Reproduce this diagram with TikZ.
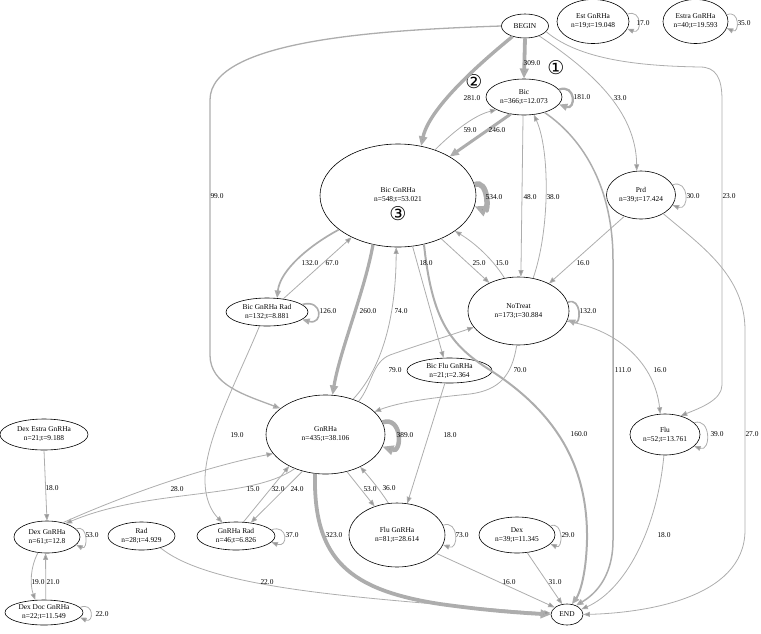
\documentclass[tikz,border=0pt]{standalone}
\usepackage{fontspec}
\setmainfont{Liberation Serif}
\newfontfamily\circfont{DejaVu Sans}
\usepackage{xcolor}
\usetikzlibrary{shapes.geometric, arrows.meta}
\definecolor{edgegray}{HTML}{ADADAD}
\definecolor{tipgray}{HTML}{969696}

\begin{document}
\begin{tikzpicture}[
    x=1pt, y=-1pt,
    state/.style  = {ellipse, draw, line width=0.6pt, inner sep=0pt, align=center,
                     font=\fontsize{7.4}{9}\selectfont},
    sz/.style args = {#1x#2}{minimum width=#1pt, minimum height=#2pt},
    flow/.style   = {draw=edgegray, line width=#1,
                     -{Triangle[length=5.6pt 1.2, width=4pt 1.2, fill=tipgray]}},
    flow/.default = 0.8pt,
    lbl/.style    = {inner sep=0pt, font=\fontsize{7.4}{9}\selectfont},
    badge/.style  = {inner sep=0pt, font=\circfont\fontsize{19}{19}\selectfont},
  ]
  \useasboundingbox (0,0) rectangle (761,633);

  \node[state, sz=47x24]   (start)        at (525,26)      {BEGIN};
  \node[state, sz=72x44]   (est_gn)       at (593,21.5)    {Est GnRHa\\n=19;t=19.048};
  \node[state, sz=65x44]   (estra_gn)     at (695.5,21.5)  {Estra GnRHa\\n=40;t=19.593};
  \node[state, sz=76x36]   (bic)          at (524,97)      {Bic\\n=366;t=12.073};
  \node[state, sz=156x103] (bic_gn)       at (398,195.5)   {Bic GnRHa\\n=548;t=53.021};
  \node[state, sz=69x48]   (prd)          at (641,195)     {Prd\\n=39;t=17.424};
  \node[state, sz=101x68]  (notreat)      at (518.5,311)   {NoTreat\\n=173;t=30.884};
  \node[state, sz=82x28]   (bic_gn_rad)   at (267,312)     {Bic GnRHa Rad\\n=132;t=8.881};
  \node[state, sz=85x25]   (bic_flu_gn)   at (449.5,370.5) {Bic Flu GnRHa\\n=21;t=2.364};
  \node[state, sz=119x79]  (gnrha)        at (325.5,434.5) {GnRHa\\n=435;t=38.106};
  \node[state, sz=70x41]   (flu)          at (665,434.5)   {Flu\\n=52;t=13.761};
  \node[state, sz=88x31]   (dex_estra_gn) at (44,434.5)    {Dex Estra GnRHa\\n=21;t=9.188};
  \node[state, sz=66x32]   (dex_gn)       at (47,537)      {Dex GnRHa\\n=61;t=12.8};
  \node[state, sz=67x28]   (rad)          at (141.5,536)   {Rad\\n=28;t=4.929};
  \node[state, sz=78x28]   (gn_rad)       at (236,536)     {GnRHa Rad\\n=46;t=6.826};
  \node[state, sz=96x64]   (flu_gn)       at (397,535)     {Flu GnRHa\\n=81;t=28.614};
  \node[state, sz=76x36]   (dex)          at (517,535)     {Dex\\n=39;t=11.345};
  \node[state, sz=78x25]   (dex_doc_gn)   at (44,612.5)    {Dex Doc GnRHa\\n=22;t=11.549};
  \node[state, sz=32x21]   (finish)       at (567,614.5)   {END};

  \node[badge] (c1) at (556,68)  {①};
  \node[badge] (c2) at (474,82)  {②};
  \node[badge] (c3) at (398,214) {③};

  % from BEGIN
  \draw[flow=3.8pt] (start.-90) -- (bic.90);
  \draw[flow=3.4pt] (start.-140) .. controls (490,55) and (430,105) .. (bic_gn.65);
  \draw[flow=1.3pt] (start.180) .. controls (380,30) and (210,40) .. (210,100)
        -- (210,355) .. controls (210,385) and (245,395) .. (gnrha.150);
  \draw[flow] (start.-35) .. controls (590,70) and (636,110) .. (prd.100);
  \draw[flow] (start.-15) .. controls (580,60) and (640,66) .. (700,67)
        .. controls (716,67) and (722,78) .. (722,100) -- (722,385)
        .. controls (722,400) and (700,408) .. (flu.50);

  % Bic
  \draw[flow=2.3pt] (bic.12) .. controls +(17,-6) and +(17,6) .. (bic.-12);
  \draw[flow=3pt] (bic.-128) -- (bic_gn.37);
  \draw[flow] (bic_gn.51) .. controls (455,130) and (475,115) .. (bic.-155);
  \draw[flow] (bic.-93) -- (notreat.86);
  \draw[flow] (notreat.66) .. controls (550,230) and (550,150) .. (bic.-61);
  \draw[flow=1.5pt] (bic.-37) .. controls (585,140) and (613,190) .. (613,260)
        -- (613,540) .. controls (613,580) and (592,596) .. (finish.45);

  % Bic GnRHa
  \draw[flow=5.5pt] (bic_gn.8) .. controls +(14,-6) and +(14,6) .. (bic_gn.-8);
  \draw[flow=1.7pt] (bic_gn.-150) .. controls (310,245) and (280,270) .. (bic_gn_rad.54);
  \draw[flow] (bic_gn_rad.39) -- (bic_gn.-138);
  \draw[flow=3.2pt] (bic_gn.-117) .. controls (365,290) and (340,350) .. (gnrha.80);
  \draw[flow] (gnrha.52) .. controls (385,365) and (396,310) .. (bic_gn.-92);
  \draw[flow] (bic_gn.-74) -- (bic_flu_gn.115);
  \draw[flow] (bic_gn.-45) -- (notreat.136);
  \draw[flow] (notreat.113) .. controls (490,255) and (470,240) .. (bic_gn.-32);
  \draw[flow=2pt] (bic_gn.-62) .. controls (432,320) and (450,345) .. (490,370)
        .. controls (560,415) and (588,470) .. (587,540)
        .. controls (586,580) and (578,596) .. (finish.65);

  % NoTreat, Prd, Flu
  \draw[flow=1.7pt] (notreat.10) .. controls +(14,-6) and +(14,6) .. (notreat.-10);
  \draw[flow] (notreat.-93) .. controls (512,375) and (500,390) .. (470,394)
        .. controls (430,398) and (400,402) .. (gnrha.25);
  \draw[flow] (gnrha.45) .. controls (372,385) and (372,362) .. (390,355)
        .. controls (415,346) and (445,337) .. (notreat.-160);
  \draw[flow] (notreat.-12) .. controls (620,330) and (655,365) .. (flu.103);
  \draw[flow] (prd.18) .. controls +(17,-6) and +(17,6) .. (prd.-18);
  \draw[flow] (prd.-128) -- (notreat.42);
  \draw[flow] (prd.-40) .. controls (700,245) and (745,275) .. (745,330)
        -- (745,530) .. controls (745,600) and (640,613) .. (finish.0);
  \draw[flow] (flu.22) .. controls +(17,-6) and +(17,6) .. (flu.-22);
  \draw[flow] (flu.-93) .. controls (657,530) and (625,590) .. (finish.20);

  % GnRHa and lower row
  \draw[flow=4.5pt] (gnrha.12) .. controls +(20,-7) and +(20,7) .. (gnrha.-12);
  \draw[flow=1.6pt] (bic_gn_rad.12) .. controls +(21,-6) and +(21,6) .. (bic_gn_rad.-12);
  \draw[flow] (bic_gn_rad.-118) .. controls (235,385) and (205,440) .. (205,480)
        .. controls (205,500) and (212,512) .. (gn_rad.135);
  \draw[flow] (bic_flu_gn.-110) -- (flu_gn.72);
  \draw[flow] (dex_gn.42) .. controls (120,497) and (200,468) .. (gnrha.-160);
  \draw[flow] (gnrha.-132) .. controls (250,500) and (150,488) .. (dex_gn.36);
  \draw[flow] (gn_rad.62) -- (gnrha.-139);
  \draw[flow] (gnrha.-122) -- (gn_rad.42);
  \draw[flow] (gnrha.-60) -- (flu_gn.128);
  \draw[flow] (flu_gn.105) .. controls (380,490) and (370,478) .. (gnrha.-43);
  \draw[flow=3.8pt] (gnrha.-105) .. controls (313,560) and (350,590) .. (440,604)
        .. controls (490,611) and (525,613) .. (finish.180);
  \draw[flow] (gn_rad.10) .. controls +(17,-6) and +(17,6) .. (gn_rad.-10);
  \draw[flow] (flu_gn.12) .. controls +(16,-6) and +(16,6) .. (flu_gn.-12);
  \draw[flow] (rad.-32) .. controls (200,580) and (300,592) .. (400,601)
        .. controls (480,608) and (530,612) .. (finish.175);
  \draw[flow] (flu_gn.-25) -- (finish.150);
  \draw[flow] (dex.15) .. controls +(13,-6) and +(13,6) .. (dex.-15);
  \draw[flow] (dex.-60) -- (finish.115);

  % Dex branch
  \draw[flow] (dex_estra_gn.-90) -- (dex_gn.90);
  \draw[flow] (dex_gn.15) .. controls +(12,-6) and +(12,6) .. (dex_gn.-15);
  \draw[flow] (dex_gn.-120) .. controls (30,568) and (30,585) .. (dex_doc_gn.125);
  \draw[flow] (dex_doc_gn.82) -- (dex_gn.-95);
  \draw[flow] (dex_doc_gn.8) .. controls +(14,-6) and +(14,6) .. (dex_doc_gn.-8);

  % isolated
  \draw[flow] (est_gn.12) .. controls +(15,-6) and +(15,6) .. (est_gn.-12);
  \draw[flow] (estra_gn.12) .. controls +(13,-6) and +(13,6) .. (estra_gn.-12);

  % weights
  \node[lbl] (w_start_bic)   at (532,63)  {309.0};
  \node[lbl] (w_start_bgn)   at (472,98)  {281.0};
  \node[lbl] (w_start_gn)    at (217,196) {99.0};
  \node[lbl] (w_start_prd)   at (620,98)  {33.0};
  \node[lbl] (w_start_flu)   at (729,196) {23.0};
  \node[lbl] (w_bic_loop)    at (582,97)  {181.0};
  \node[lbl] (w_bgn_bic)     at (470,130) {59.0};
  \node[lbl] (w_bic_bgn)     at (497,130) {246.0};
  \node[lbl] (w_bgn_loop)    at (494,197) {534.0};
  \node[lbl] (w_bic_nt)      at (530,197) {48.0};
  \node[lbl] (w_nt_bic)      at (553,197) {38.0};
  \node[lbl] (w_prd_loop)    at (693,196) {30.0};
  \node[lbl] (w_bgn_bgr)     at (310,263) {132.0};
  \node[lbl] (w_bgr_bgn)     at (332,263) {67.0};
  \node[lbl] (w_bgn_bfg)     at (426,263) {18.0};
  \node[lbl] (w_bgn_nt)      at (479,263) {25.0};
  \node[lbl] (w_nt_bgn)      at (502,263) {15.0};
  \node[lbl] (w_prd_nt)      at (583,263) {16.0};
  \node[lbl] (w_bgr_loop)    at (328,311) {126.0};
  \node[lbl] (w_bgn_gn)      at (368,311) {260.0};
  \node[lbl] (w_gn_bgn)      at (401,311) {74.0};
  \node[lbl] (w_nt_loop)     at (588,311) {132.0};
  \node[lbl] (w_gn_nt)       at (395,370) {79.0};
  \node[lbl] (w_nt_gn)       at (520,370) {70.0};
  \node[lbl] (w_bic_end)     at (623,370) {111.0};
  \node[lbl] (w_nt_flu)      at (660,370) {16.0};
  \node[lbl] (w_bgr_gr)      at (237,435) {19.0};
  \node[lbl] (w_gn_loop)     at (405,435) {389.0};
  \node[lbl] (w_bfg_fg)      at (450,435) {18.0};
  \node[lbl] (w_bgn_end)     at (579,434) {160.0};
  \node[lbl] (w_flu_loop)    at (717,434) {39.0};
  \node[lbl] (w_prd_end)     at (752,434) {27.0};
  \node[lbl] (w_deg_dg)      at (52,488)  {18.0};
  \node[lbl] (w_dg_gn)       at (177,489) {28.0};
  \node[lbl] (w_gn_dg)       at (253,489) {15.0};
  \node[lbl] (w_gr_gn)       at (278,489) {32.0};
  \node[lbl] (w_gn_gr)       at (297,489) {24.0};
  \node[lbl] (w_gn_fg)       at (370,489) {53.0};
  \node[lbl] (w_fg_gn)       at (389,488) {36.0};
  \node[lbl] (w_dg_loop)     at (92,535)  {53.0};
  \node[lbl] (w_gr_loop)     at (292,535) {37.0};
  \node[lbl] (w_gn_end)      at (334,535) {323.0};
  \node[lbl] (w_fg_loop)     at (462,535) {73.0};
  \node[lbl] (w_dex_loop)    at (568,535) {29.0};
  \node[lbl] (w_flu_end)     at (664,535) {18.0};
  \node[lbl] (w_dg_ddg)      at (38,582)  {19.0};
  \node[lbl] (w_ddg_dg)      at (53,582)  {21.0};
  \node[lbl] (w_rad_end)     at (267,582) {22.0};
  \node[lbl] (w_fg_end)      at (509,582) {16.0};
  \node[lbl] (w_dex_end)     at (555,582) {31.0};
  \node[lbl] (w_ddg_loop)    at (102,614) {22.0};
  \node[lbl] (w_est_loop)    at (643,23)  {17.0};
  \node[lbl] (w_estra_loop)  at (744,23)  {35.0};
\end{tikzpicture}
\end{document}
